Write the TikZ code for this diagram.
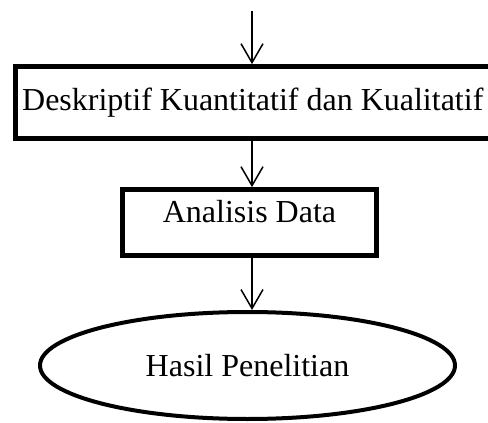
\documentclass[tikz,border=0pt]{standalone}
\usepackage{fontspec}
\setmainfont{Liberation Serif}
\usetikzlibrary{arrows.meta,shapes.geometric}
\begin{document}
\begin{tikzpicture}[x=1pt,y=-1pt,
  every node/.style={font=\fontsize{32}{38}\selectfont, inner sep=0pt},
  stepbox/.style={draw, line width=4.7pt, rectangle},
  resultoval/.style={draw, line width=4pt, ellipse},
  flow/.style={draw, line width=1.5pt, -{Straight Barb[length=19pt,width=22pt,line width=1.5pt]}}]
  \useasboundingbox (0,0) rectangle (488,423);
  \clip (0,0) rectangle (488,423);

  % process boxes and the final result
  \node[stepbox, minimum width=474.5pt, minimum height=72pt] (desk) at (252.75,102.5)
    {Deskriptif Kuantitatif dan Kualitatif};
  \node[stepbox, minimum width=254pt, minimum height=66pt,
        text height=22pt, text depth=23pt] (analisis) at (249.5,222.5) {Analisis Data};
  \node[resultoval, minimum width=415pt, minimum height=107pt] (hasil) at (247.5,365.5)
    {Hasil Penelitian};

  % incoming flow from above
  \coordinate (start) at (252,11);

  % connectors
  \draw[flow] (start) -- (start |- desk.north);
  \draw[flow] (start |- desk.south) -- (start |- analisis.north);
  \draw[flow] (start |- analisis.south) -- (start |- hasil.north);
\end{tikzpicture}
\end{document}
